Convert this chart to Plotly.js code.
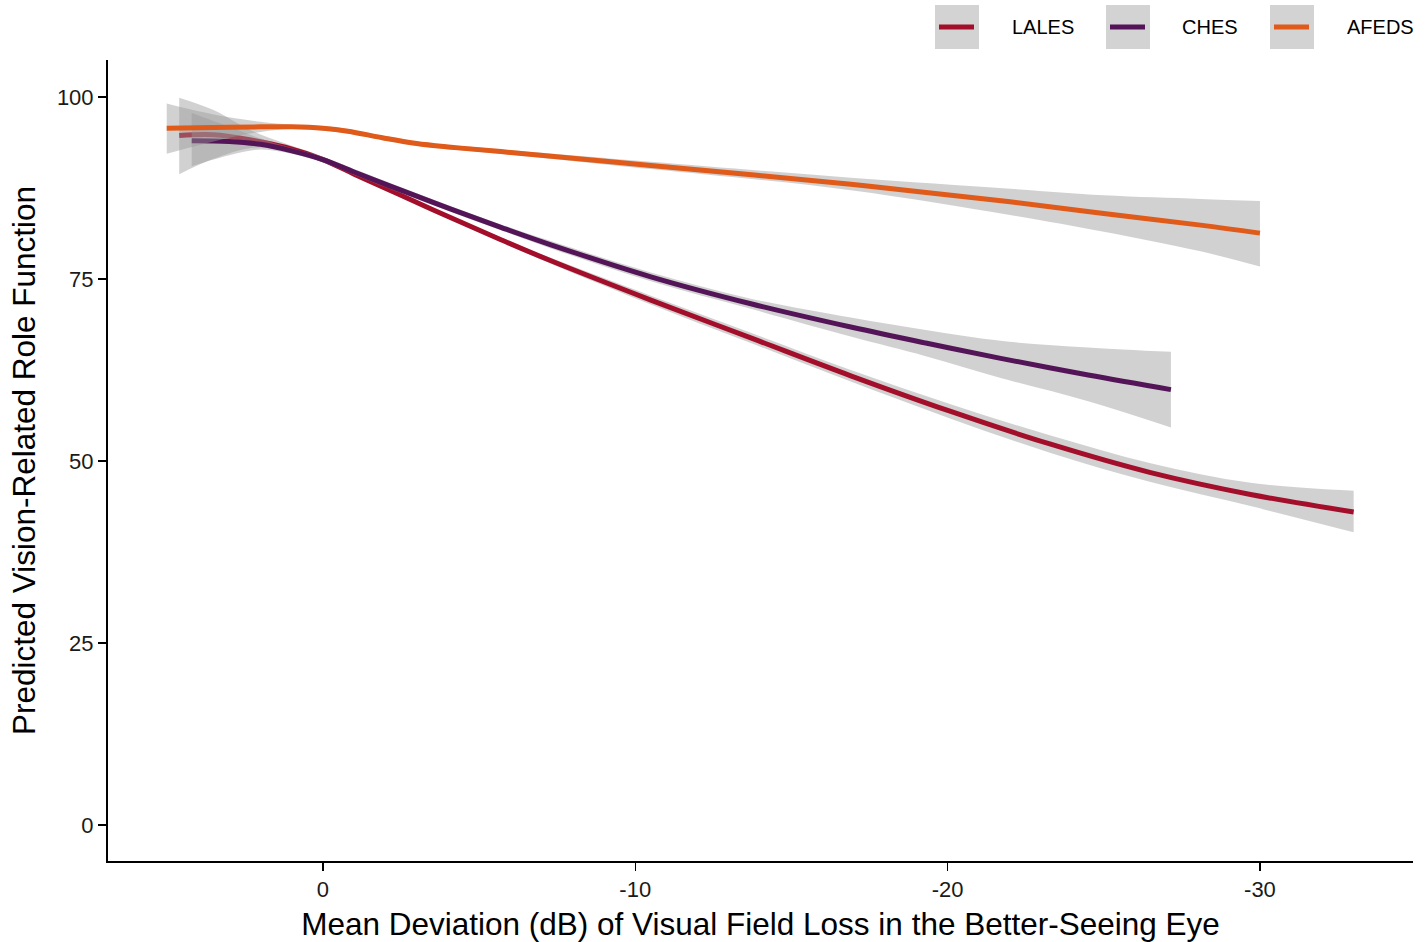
<!DOCTYPE html>
<html>
<head>
<meta charset="utf-8">
<script src="https://cdn.plot.ly/plotly-3.0.1.min.js"></script>
<style>
  html, body { margin: 0; padding: 0; background: #ffffff; }
  #chart { width: 1426px; height: 942px; }
</style>
</head>
<body>
<div id="chart"></div>
<script>
// ---------- data ----------
const seriesNames = ["LALES", "CHES", "AFEDS"];
const seriesColors = ["#A30F2B", "#531557", "#E05A1A"];

const LALES_x  = [4.6, 3.5, 2.3, 1.2, 0, -1, -2.5, -4.1, -5.7, -7.3, -10.5, -13.7, -16.9, -20.1, -23.3, -26.5, -29.7, -33];
const LALES_y  = [94.7, 94.8, 94.1, 93.1, 91.4, 89.4, 86.5, 83.4, 80.4, 77.5, 72.1, 66.9, 61.7, 56.8, 52.3, 48.4, 45.4, 43.0];
const LALES_lo = [89.4, 91.5, 93.0, 92.7, 91.0, 89.1, 86.2, 83.1, 80.1, 77.1, 71.5, 66.2, 60.9, 55.8, 51.1, 47.1, 43.8, 40.2];
const LALES_hi = [99.9, 98.2, 95.4, 93.6, 91.8, 89.7, 86.8, 83.7, 80.7, 77.9, 72.7, 67.6, 62.5, 57.8, 53.5, 49.7, 47.0, 45.9];

const CHES_x  = [4.2, 3, 2, 1, 0, -1, -2.5, -4.1, -5.7, -7.3, -10.5, -13.7, -16.9, -19.3, -21.7, -24.5, -27.15];
const CHES_y  = [94.0, 93.9, 93.5, 92.6, 91.4, 89.7, 87.2, 84.6, 82.1, 79.7, 75.3, 71.6, 68.4, 66.2, 64.1, 61.8, 59.8];
const CHES_lo = [90.5, 92.0, 92.8, 92.2, 91.0, 89.3, 86.8, 84.2, 81.7, 79.2, 74.7, 70.9, 67.1, 64.4, 61.4, 58.2, 54.6];
const CHES_hi = [97.8, 95.9, 94.3, 93.0, 91.8, 90.1, 87.6, 85.0, 82.5, 80.2, 75.9, 72.3, 69.7, 68.0, 66.5, 65.6, 65.0];

const AFEDS_x  = [5, 3.5, 2, 1, 0, -0.8, -1.9, -3.0, -4.1, -5.7, -10.5, -16.9, -22, -25, -28.1, -30];
const AFEDS_y  = [95.7, 95.8, 95.9, 95.9, 95.7, 95.3, 94.4, 93.6, 93.1, 92.5, 90.6, 88.0, 85.6, 84.0, 82.4, 81.3];
const AFEDS_lo = [92.2, 93.9, 95.2, 95.6, 95.4, 95.0, 94.1, 93.3, 92.8, 92.2, 90.1, 87.2, 83.8, 81.5, 78.8, 76.7];
const AFEDS_hi = [99.1, 97.6, 96.6, 96.2, 96.0, 95.6, 94.7, 93.9, 93.4, 92.8, 91.1, 88.9, 87.4, 86.5, 86.0, 85.7];

const xTickVals = [0, -10, -20, -30];
const xTickText = ["0", "-10", "-20", "-30"];
const yTickVals = [0, 25, 50, 75, 100];
const yTickText = ["0", "25", "50", "75", "100"];

const xTitle = "Mean Deviation (dB) of Visual Field Loss in the Better-Seeing Eye";
const yTitle = "Predicted Vision-Related Role Function";

// ---------- build traces ----------
const allSeries = [
  {x: LALES_x, y: LALES_y, lo: LALES_lo, hi: LALES_hi},
  {x: CHES_x,  y: CHES_y,  lo: CHES_lo,  hi: CHES_hi},
  {x: AFEDS_x, y: AFEDS_y, lo: AFEDS_lo, hi: AFEDS_hi}
];
const ribbonFill = "rgba(153,153,153,0.45)";
const traces = [];
allSeries.forEach((s, i) => {
  traces.push({
    x: s.x, y: s.lo, type: "scatter", mode: "lines",
    line: {width: 0, shape: "spline", smoothing: 1},
    hoverinfo: "skip", showlegend: false
  });
  traces.push({
    x: s.x, y: s.hi, type: "scatter", mode: "lines",
    line: {width: 0, shape: "spline", smoothing: 1},
    fill: "tonexty", fillcolor: ribbonFill,
    hoverinfo: "skip", showlegend: false
  });
  traces.push({
    x: s.x, y: s.y, type: "scatter", mode: "lines", name: seriesNames[i],
    line: {color: seriesColors[i], width: 5, shape: "spline", smoothing: 1},
    showlegend: false
  });
});

// ---------- layout ----------
const W = 1426, H = 942;
const M = {l: 108, r: 13, t: 60, b: 81};
const pw = W - M.l - M.r, ph = H - M.t - M.b;
const px2x = p => (p - M.l) / pw;
const py2y = p => (H - M.b - p) / ph;

const FONT = "Liberation Sans, Arial, Helvetica, sans-serif";

// custom legend (ggplot style keys)
const shapes = [];
const annotations = [];
const legendBoxLeft = [935, 1106, 1270];
const legendTextLeft = [1010, 1180, 1345];
seriesNames.forEach((nm, i) => {
  const bx = legendBoxLeft[i];
  shapes.push({type: "rect", xref: "paper", yref: "paper",
    x0: px2x(bx), x1: px2x(bx + 44), y0: py2y(49), y1: py2y(5),
    fillcolor: "#d3d3d3", line: {width: 0}, layer: "above"});
  shapes.push({type: "line", xref: "paper", yref: "paper",
    x0: px2x(bx + 4), x1: px2x(bx + 39), y0: py2y(27), y1: py2y(27),
    line: {color: seriesColors[i], width: 5}, layer: "above"});
  annotations.push({xref: "paper", yref: "paper", x: px2x(legendTextLeft[i]), y: py2y(27),
    xanchor: "left", yanchor: "middle", showarrow: false, text: nm,
    font: {family: FONT, size: 20, color: "#000"}});
});

const layout = {
  width: W, height: H,
  margin: M,
  paper_bgcolor: "#ffffff", plot_bgcolor: "#ffffff",
  showlegend: false,
  font: {family: FONT, color: "#000"},
  xaxis: {
    range: [6.88, -34.9],
    tickvals: xTickVals, ticktext: xTickText,
    showgrid: false, zeroline: false,
    showline: true, linecolor: "#000", linewidth: 2,
    ticks: "outside", ticklen: 8, tickwidth: 1.5, tickcolor: "#000",
    tickfont: {family: FONT, size: 22, color: "#1a1a1a"},
    title: {text: xTitle, font: {family: FONT, size: 31.5, color: "#000"}, standoff: 12},
    automargin: false
  },
  yaxis: {
    range: [-4.95, 105.08],
    tickvals: yTickVals, ticktext: yTickText,
    showgrid: false, zeroline: false,
    showline: true, linecolor: "#000", linewidth: 2,
    ticks: "outside", ticklen: 8, tickwidth: 1.5, tickcolor: "#000",
    tickfont: {family: FONT, size: 22, color: "#1a1a1a"},
    title: {text: yTitle, font: {family: FONT, size: 31.5, color: "#000"}, standoff: 12},
    automargin: false
  },
  shapes: shapes,
  annotations: annotations
};

Plotly.newPlot("chart", traces, layout, {displayModeBar: false, staticPlot: true});
</script>
</body>
</html>
